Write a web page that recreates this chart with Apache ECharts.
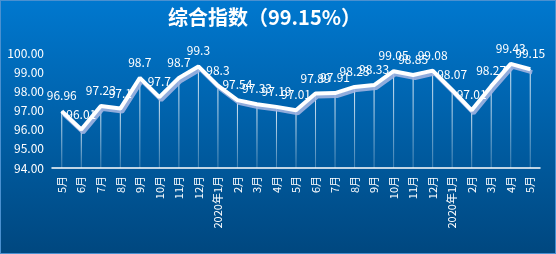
<!DOCTYPE html>
<html><head><meta charset="utf-8">
<script src="https://cdn.jsdelivr.net/npm/echarts@6/dist/echarts.min.js"></script>
<style>html,body{margin:0;padding:0;}#c{width:556px;height:254px;}</style>
</head><body><div id="c"></div>
<script>
const categories = ['5月','6月','7月','8月','9月','10月','11月','12月','2020年1月','2月','3月','4月','5月','6月','7月','8月','9月','10月','11月','12月','2020年1月','2月','3月','4月','5月'];
const values = [96.96,96.01,97.23,97.1,98.7,97.7,98.7,99.3,98.3,97.54,97.33,97.19,97.01,97.89,97.91,98.23,98.33,99.05,98.85,99.08,98.07,97.01,98.27,99.43,99.15];
const labels = ['96.96','96.01','97.23','97.1','98.7','97.7','98.7','99.3','98.3','97.54','97.33','97.19','97.01','97.89','97.91','98.23','98.33','99.05','98.85','99.08','98.07','97.01','98.27','99.43','99.15'];
const title = '综合指数（99.15%）';
const chart = echarts.init(document.getElementById('c'));
const font = '"Noto Sans CJK SC", "Noto Sans", sans-serif';
chart.setOption({
  animation: false,
  backgroundColor: {type:'linear',x:0,y:0,x2:0,y2:1,colorStops:[{offset:0,color:'#0078cf'},{offset:1,color:'#00477f'}]},
  title: {text:title,left:163,top:2,textStyle:{color:'#fff',fontSize:20,fontWeight:'bold',fontFamily:font}},
  grid: {left:52,right:16,top:53,bottom:86},
  xAxis: {type:'category',data:categories,boundaryGap:true,
    axisLine:{lineStyle:{color:'#fff',width:1.5}},axisTick:{show:false},
    axisLabel:{rotate:90,interval:0,color:'#fff',fontSize:11,fontFamily:font,margin:8}},
  yAxis: {type:'value',min:94,max:100,interval:1,
    axisLine:{show:false},axisTick:{show:false},splitLine:{show:false},
    axisLabel:{color:'#fff',fontSize:12,fontFamily:font,margin:8,formatter:v=>v.toFixed(2)}},
  series: [
    {type:'bar',data:values,barWidth:1,silent:true,
     itemStyle:{color:{type:'linear',x:0,y:0,x2:0,y2:1,colorStops:[{offset:0,color:'rgba(255,255,255,0.9)'},{offset:1,color:'rgba(255,255,255,0.25)'}]}}},
    {type:'line',data:values,symbol:'circle',symbolSize:1,showSymbol:true,z:5,
     itemStyle:{color:'#fff'},
     lineStyle:{color:'#fff',width:4,shadowColor:'rgba(160,180,225,0.9)',shadowOffsetX:2,shadowOffsetY:3,shadowBlur:0},
     label:{show:true,position:'top',distance:9,color:'#fff',fontSize:12,fontFamily:font,formatter:p=>labels[p.dataIndex]},
     labelLayout:{hideOverlap:false}}
  ]
});
</script>
<div style="position:absolute;left:0;top:0;width:554px;height:252px;border:1px solid #4a90d0;pointer-events:none;"></div>
</body></html>
